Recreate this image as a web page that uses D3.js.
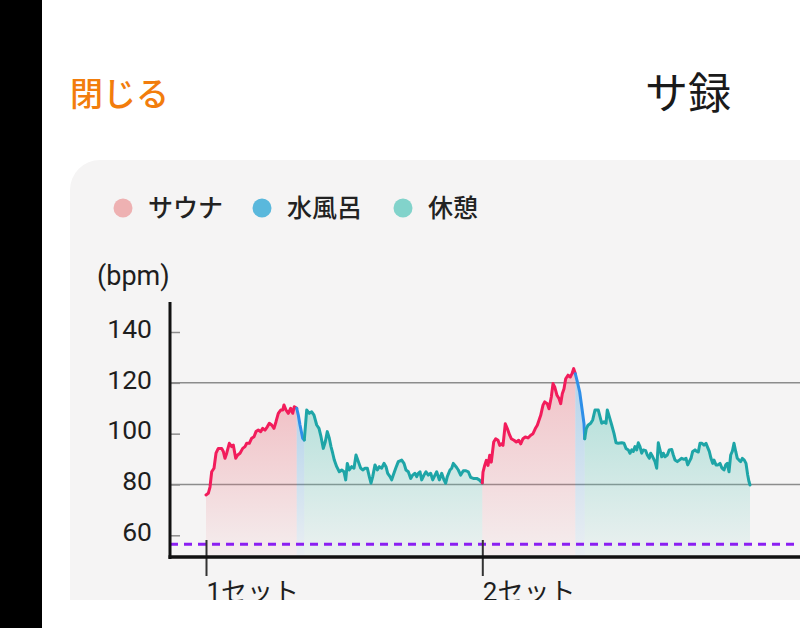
<!DOCTYPE html>
<html><head><meta charset="utf-8">
<script src="https://cdn.jsdelivr.net/npm/d3@7"></script>
<style>html,body{margin:0;padding:0;background:#fff;overflow:hidden}</style>
</head><body>
<svg id="c" width="800" height="628"></svg>
<script>
// ---- data (time in minutes from start of set 1, heart rate in bpm) ----
const legendLabels = ["サウナ", "水風呂", "休憩"];
const setStarts = [0, 27.63];
const setLabels = ["1セット", "2セット"];
const yTicks = [60, 80, 100, 120, 140];
const yGrid = [80, 120];
const restingLine = 56.5;

const sauna1 = [[0,75.9],[0.23,76.5],[0.4,79],[0.57,85],[0.8,86.4],[1.0,92.3],[1.23,94.2],[1.57,94.2],[1.73,93],[1.9,90.3],[2.07,92.3],[2.33,96.2],[2.57,94.9],[2.73,95.5],[2.97,90.3],[3.17,91.6],[3.4,92.3],[3.67,94.2],[3.9,94.9],[4.07,96.2],[4.33,96.2],[4.57,98.2],[4.8,98.8],[5.0,100.8],[5.23,101.4],[5.47,100.8],[5.67,102.1],[5.9,101.4],[6.13,102.7],[6.33,104.1],[6.57,103.4],[6.8,102.1],[7.0,104.7],[7.23,108],[7.47,109.3],[7.67,109.3],[7.8,111.3],[8.0,109.3],[8.23,108],[8.47,110],[8.67,108],[8.83,110.6],[9.07,110]];
const water1 = [[9.07,110],[9.23,107.3],[9.4,103.4],[9.67,98.2],[9.83,97.5]];
const rest1 = [[9.83,97.5],[10.07,109.3],[10.33,108],[10.57,108.6],[10.8,107.3],[11.07,103.4],[11.3,102.1],[11.5,98.8],[11.73,94.2],[11.93,96.8],[12.13,100.8],[12.33,98.2],[12.5,94.9],[12.67,92.3],[12.83,89.6],[13.07,87],[13.33,85],[13.57,85.7],[13.8,85],[13.97,81.8],[14.13,88.3],[14.33,85.7],[14.57,87],[14.8,86.4],[15.0,91.6],[15.23,89],[15.47,86.4],[15.67,85.7],[15.9,86.4],[16.13,86.4],[16.33,83.1],[16.5,80.5],[16.67,83.1],[16.9,87.7],[17.13,85.7],[17.33,87],[17.57,86.4],[17.8,88.3],[18.0,87],[18.17,84.4],[18.4,83.1],[18.57,81.8],[18.73,83.7],[18.97,86.4],[19.23,89],[19.57,89.6],[19.8,88.3],[20.0,85.7],[20.23,85],[20.47,82.4],[20.67,83.7],[20.9,84.4],[21.07,83.1],[21.23,84.4],[21.4,85],[21.57,81.8],[21.8,83.7],[22.0,85],[22.23,83.7],[22.47,84.4],[22.67,81.8],[22.9,83.7],[23.07,85],[23.33,81.8],[23.57,84.4],[23.8,81.8],[23.97,80.5],[24.13,83.1],[24.4,85.7],[24.57,86.4],[24.73,88.3],[25.0,87],[25.23,85.7],[25.47,83.7],[25.73,85.4],[26.0,85.4],[26.23,85],[26.47,82.8],[26.73,82.4],[27.07,82.4],[27.33,81.8],[27.5,81.1],[27.63,80.6]];
const sauna2 = [[27.63,80.6],[27.7,84.9],[27.87,87.5],[28.03,89.5],[28.2,87.5],[28.37,91.5],[28.53,88.8],[28.77,96.7],[28.97,98],[29.2,97.4],[29.37,95.4],[29.53,96],[29.7,95.4],[29.93,103.9],[30.13,102],[30.37,99.4],[30.53,98],[30.8,97.4],[31.03,96.7],[31.27,97.4],[31.47,96],[31.7,98],[31.93,98.7],[32.2,98.3],[32.47,99.4],[32.7,100],[32.93,102],[33.13,103.3],[33.3,105.3],[33.47,107.2],[33.7,111.2],[33.87,112.5],[34.13,111.8],[34.3,109.8],[34.53,114.4],[34.7,119.7],[34.87,118.4],[35.1,115.1],[35.3,113.8],[35.47,111.8],[35.63,115.7],[35.8,117.7],[35.97,121.6],[36.2,123],[36.43,122.3],[36.6,123.6],[36.77,125.6],[36.93,123.6]];
const water2 = [[36.93,123.6],[37.1,121],[37.37,116.4],[37.6,109.8],[37.8,103.9],[37.87,98]];
const rest2 = [[37.87,98],[38.03,102],[38.2,103.3],[38.47,104.1],[38.67,105.4],[38.9,109.3],[39.23,109.3],[39.4,106.7],[39.57,104.1],[39.8,104.7],[40.0,104.1],[40.13,109.3],[40.33,106.7],[40.57,103.4],[40.8,100.1],[41.0,96.4],[41.23,96.2],[41.57,96.4],[41.8,96.2],[42.0,94.2],[42.23,93.6],[42.4,92.3],[42.57,93.6],[42.73,93],[42.9,94.9],[43.07,93.6],[43.23,96.4],[43.4,94.9],[43.57,92.3],[43.73,93.6],[43.97,93.3],[44.13,91.6],[44.33,90.3],[44.47,92.3],[44.67,90.9],[44.9,89],[45.07,86.4],[45.23,96.4],[45.4,93.6],[45.57,90.9],[45.73,92.3],[45.9,90.9],[46.13,91.6],[46.33,93.6],[46.57,93.8],[46.73,91.6],[46.9,89.6],[47.13,89],[47.33,89.6],[47.57,90.3],[47.8,89.9],[48.0,90.3],[48.17,87.7],[48.33,89],[48.5,90.3],[48.67,93],[48.9,93.6],[49.07,93],[49.23,92.8],[49.4,96.2],[49.6,96.2],[49.8,95.5],[50.0,96.2],[50.13,94.9],[50.33,93],[50.5,90.3],[50.67,88.3],[50.8,89.6],[51.0,87.7],[51.2,87.7],[51.4,88.3],[51.6,86.4],[51.8,85.7],[51.97,87.7],[52.13,88.3],[52.3,85],[52.47,91.6],[52.63,93],[52.8,96.2],[52.97,93],[53.13,90.3],[53.3,89.6],[53.47,89],[53.63,90.3],[53.83,89.6],[54.0,88.3],[54.17,83.7],[54.3,81.1],[54.4,79.8]];

const segments = [
  {kind: 0, data: sauna1}, {kind: 1, data: water1}, {kind: 2, data: rest1},
  {kind: 0, data: sauna2}, {kind: 1, data: water2}, {kind: 2, data: rest2}
];

// ---- styles ----
const lineColors = ["#f21c5b", "#2e8fe8", "#1ea5a7"];
const dotColors = ["#eeb1b2", "#5ab8dc", "#82d3cb"];
const fillColors = ["#ea7581", "#5aa6de", "#5cc4b6"];
const fillTopAlpha = [0.4, 0.42, 0.4];
const fillBotAlpha = [0.05, 0.07, 0.06];

const svg = d3.select("#c");
const defs = svg.append("defs");

// background
svg.append("rect").attr("x", 0).attr("y", 0).attr("width", 800).attr("height", 628).attr("fill", "#ffffff");
defs.append("clipPath").attr("id", "cardClip").append("rect")
  .attr("x", 70).attr("y", 160).attr("width", 780).attr("height", 600).attr("rx", 30);
const card = svg.append("g").attr("clip-path", "url(#cardClip)");
card.append("rect").attr("x", 70).attr("y", 160).attr("width", 780).attr("height", 480).attr("fill", "#f5f4f4");

// header
svg.append("text").attr("x", 70).attr("y", 106).text("閉じる")
  .attr("font-family", "'Noto Sans CJK JP', sans-serif").attr("font-size", 33).attr("font-weight", 500).attr("fill", "#f27d0c");
svg.append("text").attr("x", 645).attr("y", 109).text("サ録")
  .attr("font-family", "'Noto Sans CJK JP', sans-serif").attr("font-size", 43).attr("fill", "#1a1a1a");

// legend
const legendX = [123, 262, 403];
legendLabels.forEach((lab, i) => {
  card.append("circle").attr("cx", legendX[i]).attr("cy", 208).attr("r", 9.5).attr("fill", dotColors[i]);
  card.append("text").attr("x", legendX[i] + 25).attr("y", 217).text(lab)
    .attr("font-family", "'Noto Sans CJK JP', sans-serif").attr("font-size", 25).attr("font-weight", 500).attr("fill", "#222");
});

// scales
const x = d3.scaleLinear().domain([-3.6, 59.4]).range([170, 800]);
const y = d3.scaleLinear().domain([60, 140]).range([535.3, 332]);
const yBottom = y.invert(557);
const yTop = y.invert(302);

// y unit label
card.append("text").attr("x", 97).attr("y", 285).text("(bpm)")
  .attr("font-family", "Roboto, sans-serif").attr("font-size", 27).attr("fill", "#1e1e1e");

// grid lines
card.selectAll("line.grid").data(yGrid).join("line").attr("class", "grid")
  .attr("x1", x(-3.6)).attr("x2", 800).attr("y1", d => y(d)).attr("y2", d => y(d))
  .attr("stroke", "#8c8c8c").attr("stroke-width", 1.5);

// gradients
[0, 1, 2].forEach(k => {
  const g = defs.append("linearGradient").attr("id", "grad" + k).attr("x1", 0).attr("y1", 0).attr("x2", 0).attr("y2", 1);
  g.append("stop").attr("offset", "0%").attr("stop-color", fillColors[k]).attr("stop-opacity", fillTopAlpha[k]);
  g.append("stop").attr("offset", "100%").attr("stop-color", fillColors[k]).attr("stop-opacity", fillBotAlpha[k]);
});

const area = d3.area().x(d => x(d[0])).y0(y(yBottom)).y1(d => y(d[1]));
const line = d3.line().x(d => x(d[0])).y(d => y(d[1]));

card.selectAll("path.area").data(segments).join("path").attr("class", "area")
  .attr("d", d => area(d.data)).attr("fill", d => `url(#grad${d.kind})`);

// resting line
card.append("line").attr("x1", x(-3.6)).attr("x2", 800).attr("y1", y(restingLine)).attr("y2", y(restingLine))
  .attr("stroke", "#8b1ff2").attr("stroke-width", 3).attr("stroke-dasharray", "8,6");

// lines
card.selectAll("path.hr").data(segments).join("path").attr("class", "hr")
  .attr("d", d => line(d.data)).attr("fill", "none").attr("stroke", d => lineColors[d.kind])
  .attr("stroke-width", 3).attr("stroke-linejoin", "round").attr("stroke-linecap", "round");

// y axis ticks + labels
const yAxis = d3.axisLeft(y).tickValues(yTicks).tickSize(-9).tickPadding(19).tickFormat(d3.format("d"));
const yg = card.append("g").attr("transform", `translate(${x(-3.6) + 1},0)`).call(yAxis);
yg.select(".domain").remove();
yg.selectAll(".tick line").attr("stroke", "#8c8c8c").attr("stroke-width", 1.5);
yg.selectAll(".tick text").attr("font-family", "Roboto, sans-serif").attr("font-size", 26.5).attr("fill", "#1e1e1e")
  .attr("dy", "0.2em");

// x axis ticks + labels
const xAxis = d3.axisBottom(x).tickValues(setStarts).tickSize(36).tickPadding(7)
  .tickFormat((d, i) => setLabels[i]);
const xg = card.append("g").attr("transform", `translate(0,540)`).call(xAxis);
xg.select(".domain").remove();
xg.selectAll(".tick line").attr("stroke", "#333").attr("stroke-width", 2);
xg.selectAll(".tick text").attr("text-anchor", "start").attr("x", 0)
  .attr("font-family", "Roboto, 'Noto Sans CJK JP', sans-serif").attr("font-size", 26).attr("fill", "#1e1e1e");

// axis lines
card.append("line").attr("x1", x(-3.6)).attr("x2", x(-3.6)).attr("y1", y(yTop)).attr("y2", y(yBottom) + 2)
  .attr("stroke", "#111").attr("stroke-width", 3);
card.append("line").attr("x1", x(-3.6) - 1.5).attr("x2", 800).attr("y1", y(yBottom)).attr("y2", y(yBottom))
  .attr("stroke", "#111").attr("stroke-width", 3.5);

// white area below the card and left black bar
svg.append("rect").attr("x", 42).attr("y", 600).attr("width", 758).attr("height", 28).attr("fill", "#ffffff");
svg.append("rect").attr("x", 0).attr("y", 0).attr("width", 42).attr("height", 628).attr("fill", "#000");
</script>
</body></html>
